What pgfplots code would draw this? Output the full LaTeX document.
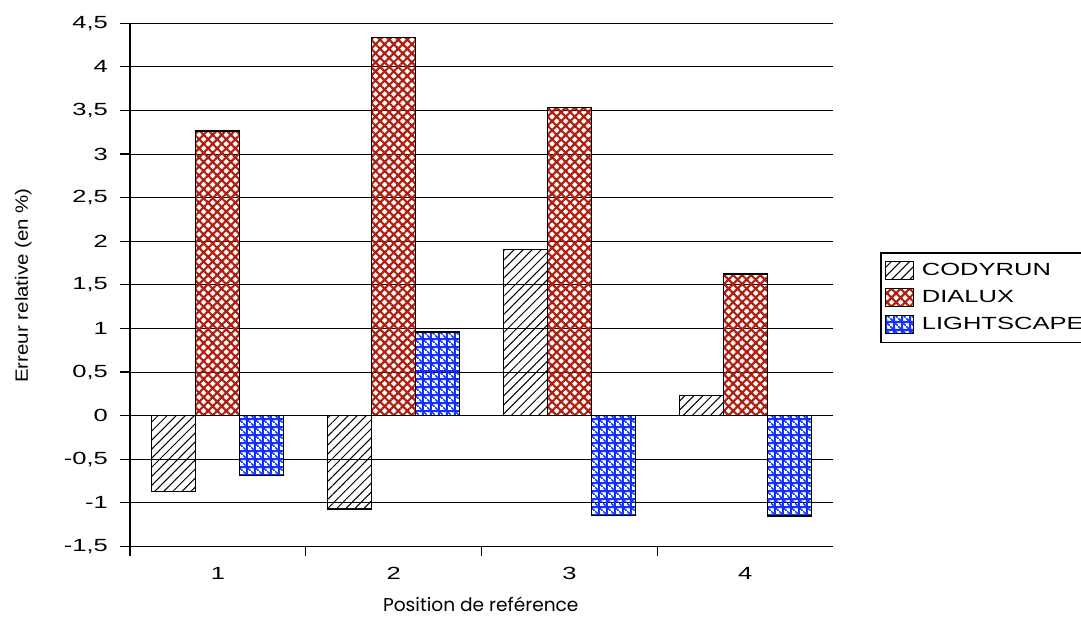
\documentclass[border=0pt]{standalone}
\usepackage{fontspec}
\setmainfont[FakeStretch=1.45]{Liberation Sans}
\newfontfamily\ylabfont[FakeStretch=1.15]{Liberation Sans}
\newfontfamily\xlabfont{Poppins}
\usepackage{pgfplots}
\usepackage{pgfplotstable}
\pgfplotsset{compat=1.18}
\usetikzlibrary{patterns.meta}

\definecolor{dred}{RGB}{175,30,15}
\definecolor{lblue}{RGB}{20,50,255}

\pgfdeclarepattern{
  name=lightgrid,
  type=uncolored,
  bottom left={\pgfpoint{0pt}{0pt}},
  top right={\pgfpoint{4.2pt}{4.2pt}},
  tile size={\pgfpoint{4.2pt}{4.2pt}},
  code={
    \pgfsetlinewidth{1.1pt}
    \pgfpathmoveto{\pgfpoint{0pt}{2.1pt}}\pgfpathlineto{\pgfpoint{4.2pt}{2.1pt}}
    \pgfpathmoveto{\pgfpoint{2.1pt}{0pt}}\pgfpathlineto{\pgfpoint{2.1pt}{4.2pt}}
    \pgfusepath{stroke}
    \pgfsetlinewidth{0.8pt}
    \pgfpathmoveto{\pgfpoint{-0.5pt}{4.7pt}}\pgfpathlineto{\pgfpoint{4.7pt}{-0.5pt}}
    \pgfusepath{stroke}
  }
}

\pgfplotstableread{
x cody dialux light
0 -0.87 3.265 -0.69
1 -1.07 4.34 0.96
2 1.91 3.53 -1.14
3 0.23 1.625 -1.15
}\data

\begin{document}
\begin{tikzpicture}[x=1pt,y=1pt]
\path[use as bounding box] (0,0) rectangle (540.5,309.5);
\begin{axis}[
  at={(65pt,36.25pt)}, anchor=south west,
  scale only axis, width=351.5pt, height=261.6pt,
  ymin=-1.5, ymax=4.5, xmin=-0.5, xmax=3.5,
  ybar=0pt, bar width=22pt,
  ymajorgrids, major grid style={black, line width=0.5pt},
  ytick={-1.5,-1,...,4.5},
  /pgf/number format/use comma,
  /pgf/number format/assume math mode=true,
  xtick={-0.5,0.5,1.5,2.5}, xticklabels={},
  extra x ticks={0,1,2,3}, extra x tick labels={1,2,3,4},
  extra x tick style={major tick length=0pt, xmajorgrids=false, xticklabel style={yshift=-7pt}},
  tick align=outside, major tick length=5pt,
  tick style={black, line width=0.6pt},
  axis x line*=bottom, axis y line*=left,
  axis line style={black, line width=0.8pt, -},
  tick label style={font=\fontsize{8.8}{10}\selectfont},
  yticklabel style={xshift=-2.5pt},
  xlabel={\xlabfont Position de reférence},
  xlabel style={at={(axis description cs:0.499,-0.110)}, anchor=center, font=\fontsize{9.3}{11}\selectfont},
  ylabel={\ylabfont Erreur relative (en \%)},
  ylabel style={at={(axis description cs:-0.152,0.499)}, anchor=center, font=\fontsize{8.9}{10}\selectfont},
  legend style={at={(1.0669,0.5629)}, anchor=north west, draw=black, line width=0.8pt,
    font=\fontsize{8.8}{10}\selectfont, row sep=2pt, inner xsep=2pt, inner ysep=3pt,
    cells={anchor=west}},
  legend image code/.code={\draw[#1, line width=0.5pt] (0pt,-4.5pt) rectangle (14pt,4.5pt); \path (16pt,0pt);},
]
\addplot[draw=black, line width=0.6pt, pattern={Lines[angle=45,distance=3.2pt,line width=0.5pt]}, pattern color=black] table[x=x,y=cody]{\data};
\addplot[draw=black, line width=0.6pt, pattern={Hatch[angle=45,distance=3.2pt,line width=1.1pt]}, pattern color=dred] table[x=x,y=dialux]{\data};
\addplot[draw=black, line width=0.6pt, pattern=lightgrid, pattern color=lblue] table[x=x,y=light]{\data};
\legend{CODYRUN,DIALUX,LIGHTSCAPE}
\end{axis}
\end{tikzpicture}
\end{document}
